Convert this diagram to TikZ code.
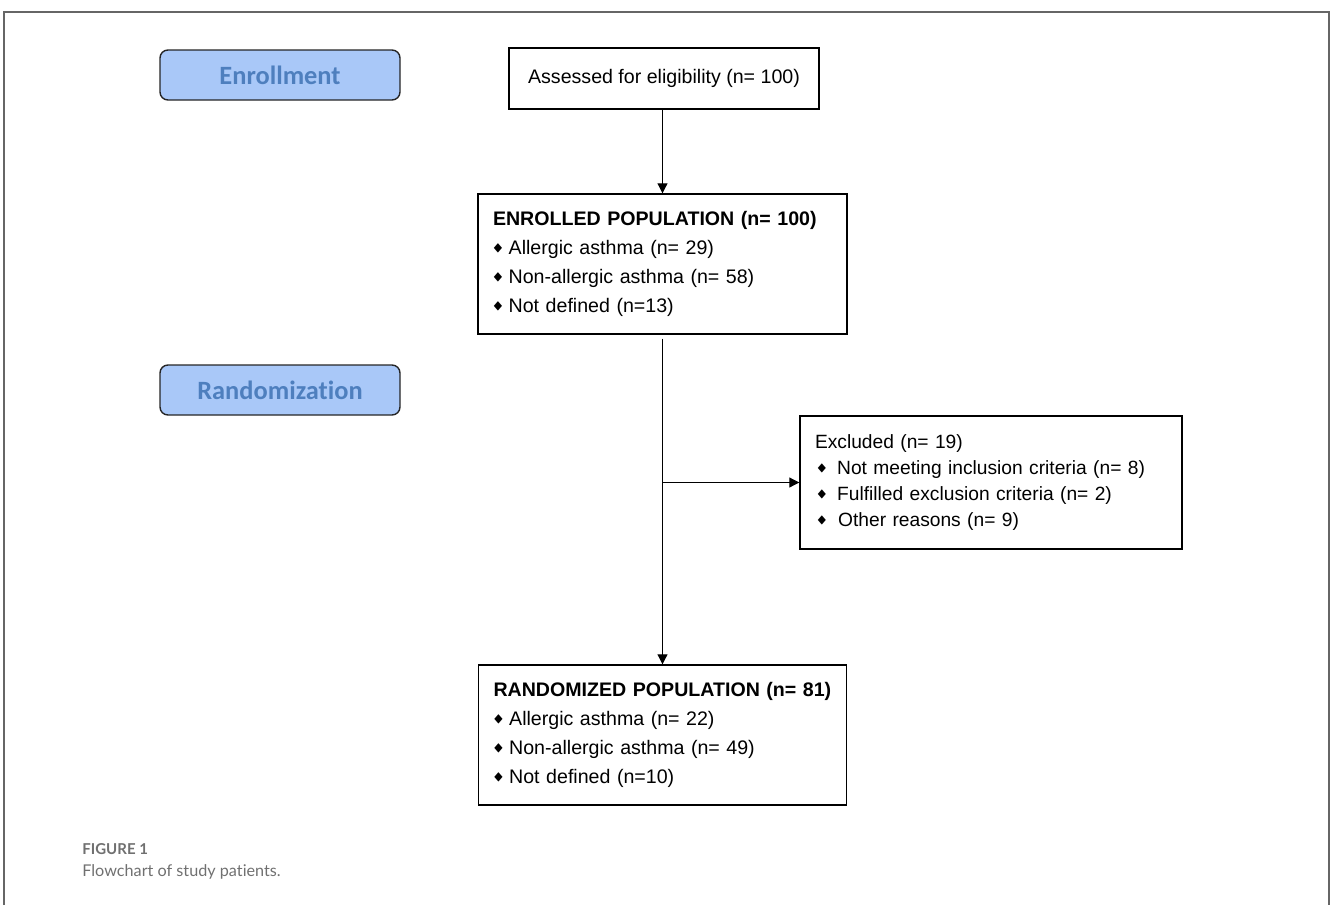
\documentclass[tikz,border=0pt]{standalone}
\usepackage{amssymb}
\usepackage{fontspec}
\setmainfont{Liberation Sans}
\newfontfamily\labelfont[Ligatures=NoCommon]{Carlito}
\newfontfamily\capfont[Ligatures=NoCommon]{Lato}
\usetikzlibrary{arrows.meta,positioning}

\definecolor{tagfill}{HTML}{A9C8F8}
\definecolor{tagtext}{HTML}{4E7FBE}
\definecolor{framegray}{HTML}{666666}
\definecolor{capgray}{HTML}{707070}

\newcommand{\bul}{\raisebox{0.3ex}{\scalebox{0.75}[0.55]{$\blacklozenge$}}\hspace{0.3em}}

\tikzset{
	stagetag/.style={draw=black!85, line width=0.7pt, rounded corners=4pt, fill=tagfill,
		minimum width=120pt, minimum height=25pt, inner sep=0pt,
		font=\labelfont\bfseries\fontsize{13.2}{15}\selectfont, text=tagtext},
	flowbox/.style={draw=black, line width=0.7pt, inner sep=7.5pt, align=left, anchor=center},
	flowarrow/.style={line width=0.5pt, -{Triangle[length=5pt,width=5pt]}}
}

\begin{document}
\begin{tikzpicture}[x=0.5pt,y=-0.5pt]
		
		\useasboundingbox (0,0) rectangle (1333,905);
		
		% Draw the outer frame, open at the bottom
		\draw[framegray, line width=0.6pt] (4,905) -- (4,12) -- (1329,12) -- (1329,905);
		
		% Stage labels on the left
		\node[stagetag] (enrolltag) at (280,75) {Enrollment};
		\node[stagetag] (randomtag) at (280,390) {Randomization};
		
		% Boxes of the flowchart
		\node[flowbox, minimum width=155pt, minimum height=30.5pt, align=center,
			font=\fontsize{9.8}{11}\selectfont] (assessed) at (664,78.5)
			{\raisebox{1.5pt}{Assessed for eligibility (n= 100)}};
		
		\node[flowbox, minimum width=184.5pt, minimum height=70pt, text width=169.5pt,
			font=\fontsize{9.8}{14.5}\selectfont] (enrolled) at (662.5,264)
			{\textbf{ENROLLED POPULATION (n= 100)}\\
			\bul Allergic asthma (n= 29)\\
			\bul Non-allergic asthma (n= 58)\\
			\bul Not defined (n=13)};
		
		\node[flowbox, minimum width=191pt, minimum height=66.5pt, text width=176pt,
			font=\fontsize{9.6}{13}\selectfont] (excluded) at (991,482.5)
			{Excluded (n= 19)\\
			\hspace{1pt}\bul\hspace{0.25em}Not meeting inclusion criteria (n= 8)\\
			\hspace{1pt}\bul\hspace{0.25em}Fulfilled exclusion criteria (n= 2)\\
			\hspace{1pt}\bul\hspace{0.3em}Other reasons (n= 9)};
		
		\node[flowbox, minimum width=184pt, minimum height=70pt, text width=169pt,
			font=\fontsize{9.8}{14.5}\selectfont] (randomized) at (662.5,735)
			{\textbf{RANDOMIZED POPULATION (n= 81)}\\
			\bul Allergic asthma (n= 22)\\
			\bul Non-allergic asthma (n= 49)\\
			\bul Not defined (n=10)};
		
		% Connectors
		\draw[flowarrow] (assessed.south -| enrolled.north) -- (enrolled.north);
		\draw[flowarrow] ([yshift=-2pt]enrolled.south) -- (randomized.north);
		\coordinate (split) at (enrolled.south |- excluded.west);
		\draw[flowarrow] (split) -- (excluded.west);
		
		% Caption
		\node[anchor=west, inner sep=0pt, text=capgray, font=\capfont\bfseries\fontsize{7.5}{8}\selectfont]
			(figtag) at (82,849) {FIGURE 1};
		\node[anchor=west, inner sep=0pt, text=capgray, font=\capfont\fontsize{8.1}{10}\selectfont]
			(figcap) at (82,872) {Flowchart of study patients.};
		
	\end{tikzpicture}
\end{document}
